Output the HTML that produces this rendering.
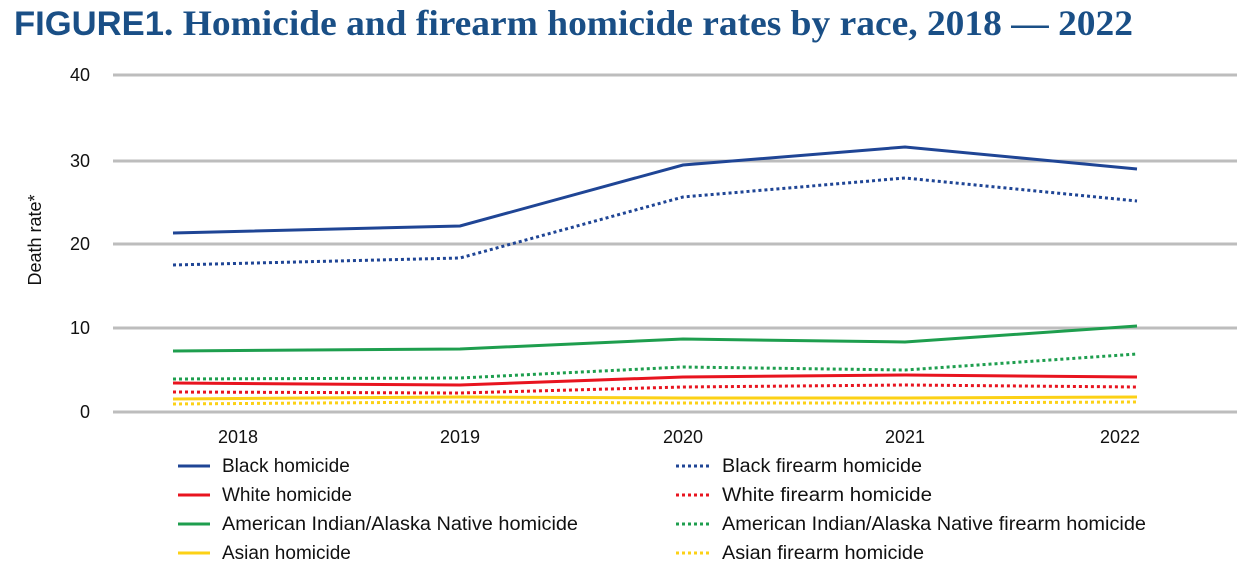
<!DOCTYPE html>
<html><head><meta charset="utf-8"><style>
body{margin:0;background:#fff;width:1255px;height:574px;overflow:hidden}
svg text{font-family:"Liberation Sans",sans-serif}
</style></head><body>
<svg width="1255" height="574" viewBox="0 0 1255 574" xmlns="http://www.w3.org/2000/svg">
<text x="14" y="35" font-size="34" fill="#1a4f86" font-weight="bold" style="font-family:'Liberation Sans',sans-serif" textLength="150" lengthAdjust="spacingAndGlyphs">FIGURE1</text>
<text x="164" y="35" font-size="36" fill="#1a4f86" style="font-family:'Liberation Serif',serif" font-weight="bold" textLength="969" lengthAdjust="spacingAndGlyphs">. Homicide and firearm homicide rates by race, 2018 — 2022</text>
<g stroke="#bdbdbd" stroke-width="3">
<line x1="113" x2="1237" y1="75" y2="75"/><line x1="113" x2="1237" y1="161" y2="161"/>
<line x1="113" x2="1237" y1="244" y2="244"/><line x1="113" x2="1237" y1="328" y2="328"/>
<line x1="113" x2="1237" y1="412" y2="412"/></g>
<g font-size="18" fill="#111" text-anchor="end">
<text x="90" y="81">40</text><text x="90" y="167">30</text><text x="90" y="250">20</text><text x="90" y="334">10</text><text x="90" y="418">0</text></g>
<text transform="translate(41,240) rotate(-90)" font-size="18" text-anchor="middle" fill="#111">Death rate*</text>
<g font-size="18" fill="#111" text-anchor="middle">
<text x="238" y="443">2018</text><text x="460" y="443">2019</text><text x="683" y="443">2020</text><text x="905" y="443">2021</text><text x="1120" y="443">2022</text></g>
<g fill="none" stroke-width="3">
<polyline stroke="#1f4595" points="173,233 460,226 683,165 905,147 1137,169"/>
<polyline stroke="#1f4595" stroke-dasharray="3,3" points="173,265 460,258 683,197 905,178 1137,201"/>
<polyline stroke="#1e9e4e" points="173,351 460,349 683,339 905,342 1137,326"/>
<polyline stroke="#1e9e4e" stroke-dasharray="3,3" points="173,379 460,378 683,367 905,370 1137,354"/>
<polyline stroke="#e8141f" points="173,383 460,385 683,377 905,375 1137,377"/>
<polyline stroke="#e8141f" stroke-dasharray="3,3" points="173,392 460,393 683,387 905,385 1137,387"/>
<polyline stroke="#fcd116" points="173,399 460,397 683,398 905,398 1137,397"/>
<polyline stroke="#fcd116" stroke-dasharray="3,3" points="173,404 460,402 683,403 905,403 1137,402"/>
</g>
<g stroke-width="3">
<line x1="178" x2="210" y1="466" y2="466" stroke="#1f4595"/>
<line x1="178" x2="210" y1="495" y2="495" stroke="#e8141f"/>
<line x1="178" x2="210" y1="524" y2="524" stroke="#1e9e4e"/>
<line x1="178" x2="210" y1="553" y2="553" stroke="#fcd116"/>
<line x1="676" x2="712" y1="466" y2="466" stroke="#1f4595" stroke-dasharray="3,3"/>
<line x1="676" x2="712" y1="495" y2="495" stroke="#e8141f" stroke-dasharray="3,3"/>
<line x1="676" x2="712" y1="524" y2="524" stroke="#1e9e4e" stroke-dasharray="3,3"/>
<line x1="676" x2="712" y1="553" y2="553" stroke="#fcd116" stroke-dasharray="3,3"/>
</g>
<g font-size="19" fill="#111">
<text x="222" y="472">Black homicide</text><text x="222" y="501">White homicide</text>
<text x="222" y="530" textLength="356" lengthAdjust="spacingAndGlyphs">American Indian/Alaska Native homicide</text><text x="222" y="559">Asian homicide</text>
<text x="722" y="472" textLength="200" lengthAdjust="spacingAndGlyphs">Black firearm homicide</text><text x="722" y="501" textLength="210" lengthAdjust="spacingAndGlyphs">White firearm homicide</text>
<text x="722" y="530" textLength="424" lengthAdjust="spacingAndGlyphs">American Indian/Alaska Native firearm homicide</text><text x="722" y="559" textLength="202" lengthAdjust="spacingAndGlyphs">Asian firearm homicide</text>
</g>
</svg>
</body></html>
